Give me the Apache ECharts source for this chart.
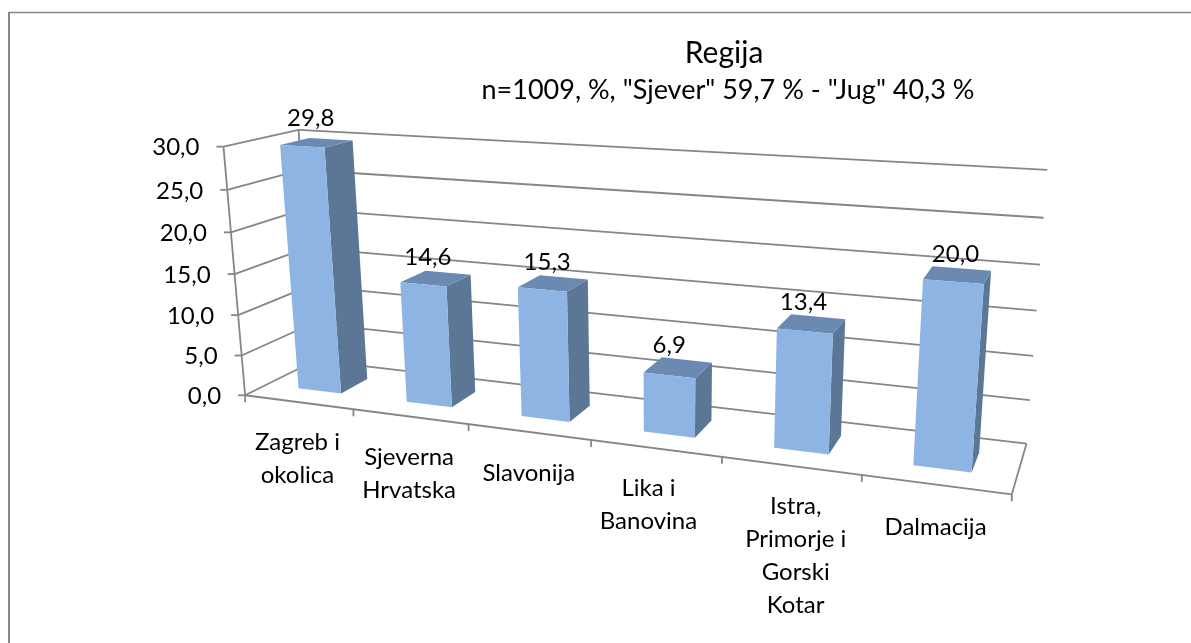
<!DOCTYPE html>
<html><head><meta charset="utf-8">
<style>html,body{margin:0;padding:0;background:#fff}#c{width:1191px;height:643px}</style>
<script src="https://cdn.jsdelivr.net/npm/echarts@6/dist/echarts.min.js"></script></head>
<body><div id="c"></div>
<script>
const categories = ['Zagreb i\nokolica','Sjeverna\nHrvatska','Slavonija','Lika i\nBanovina','Istra,\nPrimorje i\nGorski\nKotar','Dalmacija'];
const values = [29.8,14.6,15.3,6.9,13.4,20.0];
const yTicks = [0,5,10,15,20,25,30];
const titleText = 'Regija';
const subtitleText = 'n=1009, %, "Sjever" 59,7 % - "Jug" 40,3 %';

const FONT = 'Lato, "Open Sans", sans-serif';
const LABEL_SIZE = 24;
const GRID = '#868686', FRONT = '#8DB4E3', SIDE = '#5C7696', TOP = '#6A8AB1';
const BAR_FRAC = 0.4, D0 = 0.3, D1 = 0.7;
const catNudge = [0,0,1,-6,6,1];
const catNudgeY = [0,0,1,0,0,2];
const valNudge = [[0,1],[-2,4],[0,4],[-3,3],[-2,4],[4,4]];

// scene frame: unit cube (across, up, depth) -> screen, least-squares camera
const frame = [
 [0,0,0,244.3,395.3],[1,0,0,1011.7,493.7],[0,0,1,316,360],[1,0,1,1026.3,444.3],
 [0,1,0,224.3,146.7],[0,1,1,297.7,130],[1,1,1,1047.3,169.7],
 [1/6,0,0,353,409.5],[2/6,0,0,469,424],[3/6,0,0,591,440],[4/6,0,0,722,457],[5/6,0,0,862,475]
];
function solve(A,b){const n=b.length;for(let i=0;i<n;i++){let m=i;for(let r=i+1;r<n;r++)if(Math.abs(A[r][i])>Math.abs(A[m][i]))m=r;
 [A[i],A[m]]=[A[m],A[i]];[b[i],b[m]]=[b[m],b[i]];
 for(let r=i+1;r<n;r++){const f=A[r][i]/A[i][i];for(let c=i;c<n;c++)A[r][c]-=f*A[i][c];b[r]-=f*b[i];}}
 const x=new Array(n);for(let i=n-1;i>=0;i--){let s=b[i];for(let c=i+1;c<n;c++)s-=A[i][c]*x[c];x[i]=s/A[i][i];}return x;}
const cam=(function(){const N=[...Array(11)].map(()=>new Array(11).fill(0)),B=new Array(11).fill(0);
 frame.forEach(([X,Y,Z,px,py])=>{const x=px/1000,y=py/1000;
  [[X,Y,Z,1,0,0,0,0,-x*X,-x*Y,-x*Z,x],[0,0,0,0,X,Y,Z,1,-y*X,-y*Y,-y*Z,y]].forEach(r=>{
   for(let i=0;i<11;i++){B[i]+=r[i]*r[11];for(let j=0;j<11;j++)N[i][j]+=r[i]*r[j];}});});
 return solve(N,B);})();
function proj(u,v,d){const w=cam[8]*u+cam[9]*v+cam[10]*d+1;
 return [1000*(cam[0]*u+cam[1]*v+cam[2]*d+cam[3])/w,1000*(cam[4]*u+cam[5]*v+cam[6]*d+cam[7])/w];}

// library scales -> unit cube
function norm(params,api,cat,val){const g=params.coordSys,p=api.coord([cat,val]);
 return [(p[0]-g.x)/g.width,(g.y+g.height-p[1])/g.height];}
const line=(a,b)=>({type:'line',shape:{x1:a[0],y1:a[1],x2:b[0],y2:b[1]},style:{stroke:GRID,lineWidth:1.8}});
const poly=(pts,fill)=>({type:'polygon',shape:{points:pts},style:{fill}});
const text=(x,y,t,o)=>({type:'text',style:Object.assign({x,y,text:t,fill:'#000',fontFamily:FONT,fontSize:LABEL_SIZE,lineHeight:33},o)});

function renderWall(params,api){
 const t=api.value(1),v=norm(params,api,0,t)[1];
 const a=proj(0,v,0),b=proj(0,v,1),c=proj(1,v,1);
 const kids=[line(a,b),line(b,c),line([a[0]-7,a[1]],a),
  text(a[0]-24,a[1]+1,t.toFixed(1).replace('.',','),{align:'right',verticalAlign:'middle'})];
 return {type:'group',children:kids};
}
function renderFrame(){
 const kids=[line(proj(0,0,0),proj(0,1,0)),line(proj(0,0,1),proj(0,1,1)),line(proj(0,0,0),proj(1,0,0)),
  line(proj(1,0,0),proj(1,0,1))];
 for(let i=0;i<=categories.length;i++){const p=proj(i/categories.length,0,0);kids.push(line(p,[p[0],p[1]+7]));}
 return {type:'group',children:kids};
}
function renderBar(params,api){
 const i=api.value(0),val=api.value(1),s=norm(params,api,i,val),bw=api.size([1,0])[0]*BAR_FRAC/params.coordSys.width;
 const u0=s[0]-bw/2,u1=s[0]+bw/2,h=s[1];
 const P=(u,v,d)=>proj(u,v,d);
 const kids=[
  poly([P(u1,0,D0),P(u1,0,D1),P(u1,h,D1),P(u1,h,D0)],SIDE),
  poly([P(u0,h,D0),P(u1,h,D0),P(u1,h,D1),P(u0,h,D1)],TOP),
  poly([P(u0,0,D0),P(u1,0,D0),P(u1,h,D0),P(u0,h,D0)],FRONT)
 ];
 return {type:'group',children:kids};
}
function renderBarLabel(params,api){
 const i=api.value(0),val=api.value(1),s=norm(params,api,i,val);
 const p=proj(s[0],s[1],0.5),n=valNudge[i];
 return text(p[0]-6+n[0],p[1]-25+n[1],val.toFixed(1).replace('.',','),{align:'center',verticalAlign:'middle'});
}
function renderCat(params,api){
 const i=api.value(0),s=norm(params,api,i,0),p=proj(s[0],0,0);
 return text(p[0]-1+catNudge[i],p[1]+24+catNudgeY[i],categories[i],{align:'center',verticalAlign:'top'});
}
const chart=echarts.init(document.getElementById('c'),null,{renderer:'canvas'});
const cats=categories.map((c,i)=>i);
chart.setOption({
 animation:false,backgroundColor:'#fff',
 title:[
  {text:titleText,left:719,top:33,textAlign:'center',textStyle:{fontFamily:FONT,fontSize:30,fontWeight:'normal',color:'#000'}},
  {text:subtitleText,left:723,top:72,textAlign:'center',textStyle:{fontFamily:FONT,fontSize:27,fontWeight:'normal',color:'#000'}}
 ],
 graphic:[
  {type:'line',shape:{x1:9,y1:12.5,x2:1191,y2:12.5},style:{stroke:GRID,lineWidth:1.6},z:-1},
  {type:'line',shape:{x1:9,y1:12,x2:9,y2:643},style:{stroke:GRID,lineWidth:2},z:-1}
 ],
 grid:{left:200,right:200,top:150,bottom:150},
 xAxis:{type:'category',data:categories,show:false},
 yAxis:{type:'value',min:0,max:30,interval:5,show:false},
 series:[
  {type:'custom',clip:false,silent:true,z:2,renderItem:renderWall,data:yTicks.map(t=>[0,t])},
  {type:'custom',clip:false,silent:true,z:3,renderItem:renderFrame,data:[[0,0]]},
  {type:'custom',clip:false,silent:true,z:4,renderItem:renderBar,data:values.map((v,i)=>[i,v])},
  {type:'custom',clip:false,silent:true,z:5,renderItem:renderBarLabel,data:values.map((v,i)=>[i,v])},
  {type:'custom',clip:false,silent:true,z:5,renderItem:renderCat,data:cats.map(i=>[i,0])}
 ]
});
</script></body></html>
